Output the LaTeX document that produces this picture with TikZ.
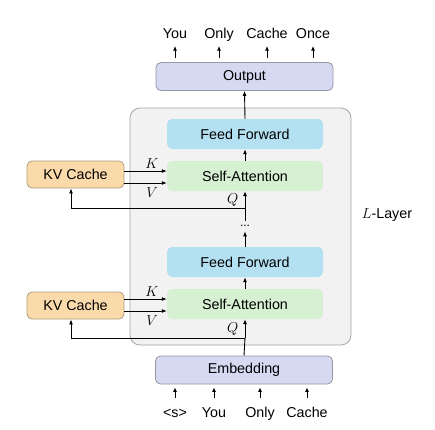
\documentclass[tikz,border=0pt]{standalone}
\usepackage{fontspec}
\setmainfont{Liberation Sans}
\usetikzlibrary{arrows.meta}
\definecolor{iolavender}{RGB}{214,217,242}
\definecolor{boxgray}{RGB}{150,152,165}
\definecolor{ffblue}{RGB}{180,225,242}
\definecolor{attgreen}{RGB}{214,240,210}
\definecolor{kvorange}{RGB}{250,218,170}
\definecolor{kvborder}{RGB}{175,155,125}
\definecolor{layerfill}{RGB}{242,242,242}
\definecolor{layergray}{RGB}{165,165,165}
\begin{document}
\begin{tikzpicture}[x=1pt,y=-1pt,
		font=\fontsize{14.3}{17}\selectfont,
		block/.style={rounded corners=5pt, minimum width=156pt, minimum height=30pt, inner sep=0pt},
		ffbox/.style={block, fill=ffblue},
		attbox/.style={block, fill=attgreen},
		iobox/.style={block, draw=boxgray, line width=0.8pt, fill=iolavender, minimum width=177pt, minimum height=28pt},
		kvbox/.style={block, draw=kvborder, line width=0.8pt, fill=kvorange, minimum width=97pt, minimum height=27pt},
		flow/.style={line width=0.9pt, -{Latex[length=5pt,width=4pt]}},
		plainline/.style={line width=0.9pt},
		tokarrow/.style={line width=1pt, -{Latex[length=4.5pt,width=4pt]}}
		]
		\useasboundingbox (0,0) rectangle (435,429);
		
		\draw[draw=layergray, fill=layerfill, line width=0.8pt, rounded corners=10pt] (130,108) rectangle (351,345);
		
		\node[iobox]  (output) at (244.5,76.5) {Output};
		\node[ffbox]  (ff1)    at (245,134)    {Feed Forward};
		\node[attbox] (att1)   at (245,176)    {Self-Attention};
		\node[inner xsep=1pt, inner ysep=4.5pt, font=\fontsize{12}{14}\selectfont] (dots) at (245,226) {...};
		\node[ffbox]  (ff2)    at (245,262)    {Feed Forward};
		\node[attbox] (att2)   at (245,304)    {Self-Attention};
		\node[iobox]  (embed)  at (244,370)    {Embedding};
		\node[kvbox]  (kv1)    at (75.5,174.5) {KV Cache};
		\node[kvbox]  (kv2)    at (75.5,305.5) {KV Cache};
		\node         (layers) at (387,215)    {$L$-Layer};
		\coordinate   (q1)     at (245,208);
		\coordinate   (q2)     at (245,338);
		
		\foreach \name/\x/\word in {o1/175/You, o2/219/Only, o3/267/Cache, o4/313/Once}
		\node[anchor=base] (\name) at (\x,38) {\word};
		\foreach \name/\x/\word in {i1/175/{<s>}, i2/214/You, i3/260/Only, i4/307/Cache}
		\node[anchor=base] (\name) at (\x,417) {\word};
		
		\foreach \name in {o1,o2,o3,o4}
		\draw[tokarrow, shorten <=4pt, shorten >=8pt] (\name.base |- output.north) -- (\name.base);
		\foreach \name in {i1,i2,i3,i4}
		\draw[tokarrow, shorten <=19pt, shorten >=3pt] (\name.base) -- (\name.base |- embed.south);
		
		\draw[flow] ([yshift=5pt]att1.west -| kv1.east) -- node[pos=0.65, above=-1pt] {$K$} ([yshift=5pt]att1.west);
		\draw[flow] ([yshift=-7pt]att1.west -| kv1.east) -- node[pos=0.65, below=1pt] {$V$} ([yshift=-7pt]att1.west);
		\draw[flow] ([yshift=5pt]att2.west -| kv2.east) -- node[pos=0.65, above=-1pt] {$K$} ([yshift=5pt]att2.west);
		\draw[flow] ([yshift=-7pt]att2.west -| kv2.east) -- node[pos=0.65, below=1pt] {$V$} ([yshift=-7pt]att2.west);
		
		\draw[plainline] (embed.north) -- (q2);
		\draw[flow] (q2) -- node[midway, left=3pt] {$Q$} (att2.south);
		\draw[flow] (q2) -| ([xshift=-4.5pt]kv2.south);
		\draw[flow] (att2.north) -- (ff2.south);
		\draw[flow] (ff2.north) -- (dots.south);
		\draw[plainline] (dots.north) -- (q1);
		\draw[flow] (q1) -- node[midway, left=3pt] {$Q$} (att1.south);
		\draw[flow] (q1) -| ([xshift=-4.5pt]kv1.south);
		\draw[flow] (att1.north) -- (ff1.south);
		\draw[flow] (ff1.north) -- (output.south);
\end{tikzpicture}
\end{document}
